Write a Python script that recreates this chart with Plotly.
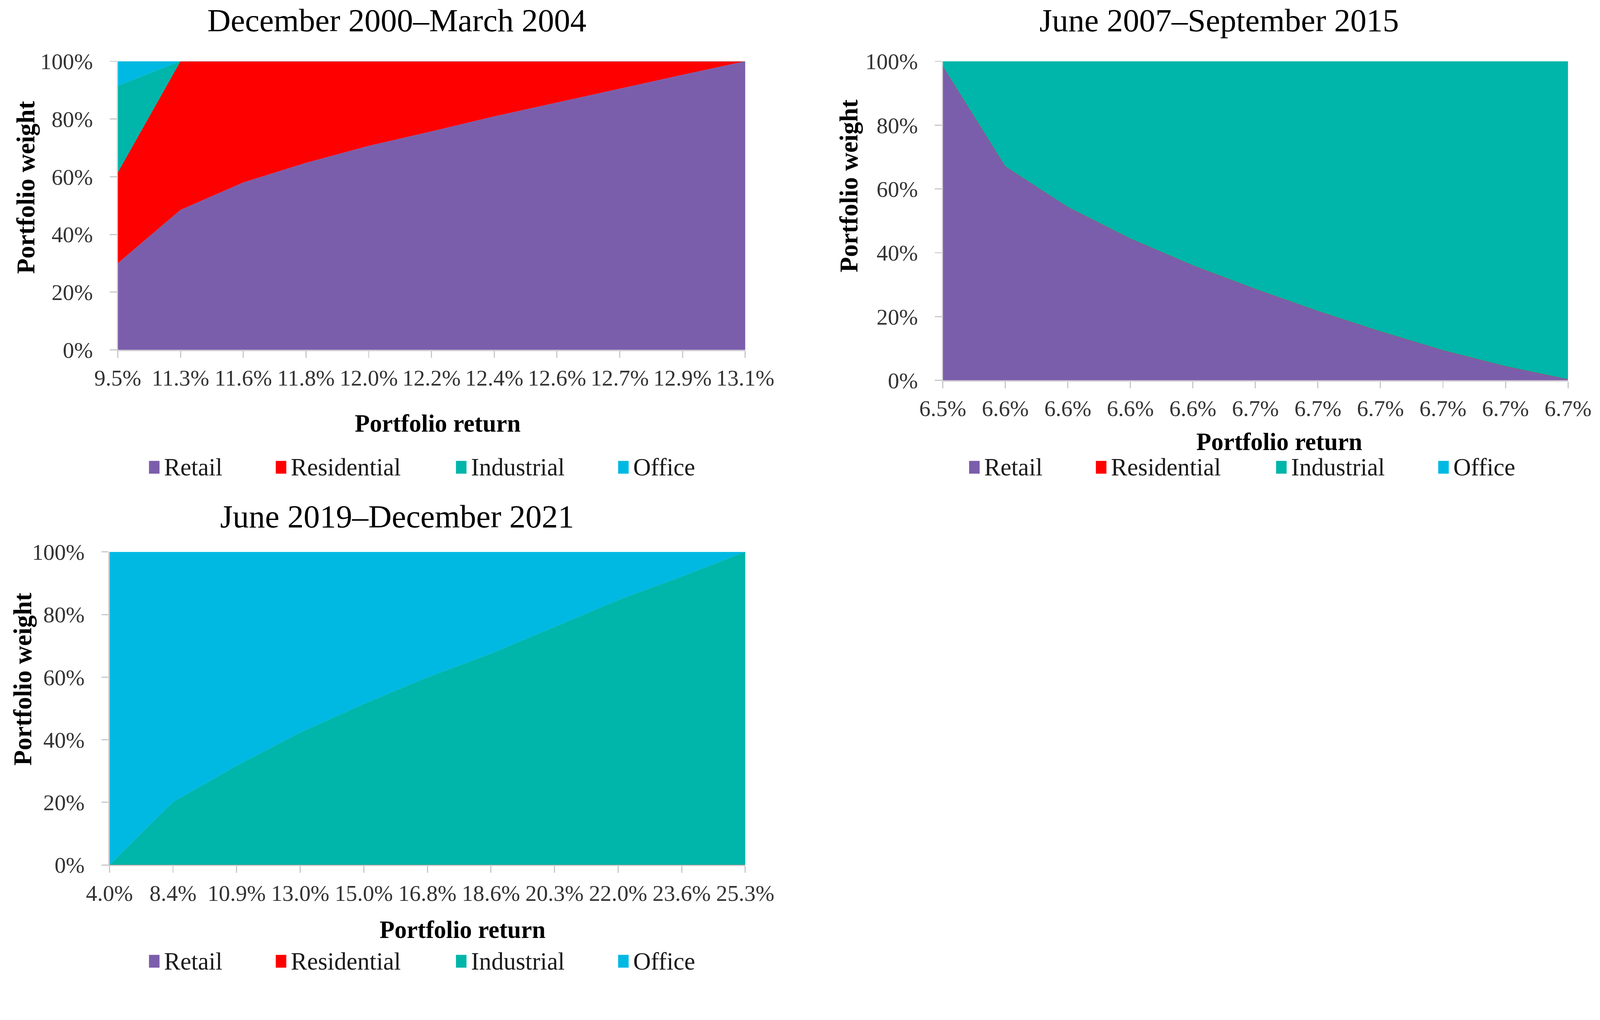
import plotly.graph_objects as go

W, H = 4253, 2611
FONT = "Liberation Serif"

SERIES = ["Retail", "Residential", "Industrial", "Office"]
COLORS = {"Retail": "#7B5EAB", "Residential": "#FF0000",
          "Industrial": "#00B5A9", "Office": "#00B9E3"}

# Panel 1: December 2000–March 2004
p1_title = "December 2000–March 2004"
p1_labels = ["9.5%", "11.3%", "11.6%", "11.8%", "12.0%", "12.2%",
             "12.4%", "12.6%", "12.7%", "12.9%", "13.1%"]
p1_retail = [0.300, 0.485, 0.580, 0.648, 0.707, 0.757, 0.809, 0.857, 0.905, 0.953, 1.000]
p1_residential = [0.314, 0.515, 0.420, 0.352, 0.293, 0.243, 0.191, 0.143, 0.095, 0.047, 0.000]
p1_industrial = [0.301, 0, 0, 0, 0, 0, 0, 0, 0, 0, 0]
p1_office = [0.085, 0, 0, 0, 0, 0, 0, 0, 0, 0, 0]

# Panel 2: June 2007–September 2015
p2_title = "June 2007–September 2015"
p2_labels = ["6.5%", "6.6%", "6.6%", "6.6%", "6.6%", "6.7%",
             "6.7%", "6.7%", "6.7%", "6.7%", "6.7%"]
p2_retail = [0.984, 0.670, 0.543, 0.444, 0.360, 0.286, 0.217, 0.153, 0.094, 0.044, 0.003]
p2_residential = [0, 0, 0, 0, 0, 0, 0, 0, 0, 0, 0]
p2_industrial = [0.016, 0.330, 0.457, 0.556, 0.640, 0.714, 0.783, 0.847, 0.906, 0.956, 0.997]
p2_office = [0, 0, 0, 0, 0, 0, 0, 0, 0, 0, 0]

# Panel 3: June 2019–December 2021
p3_title = "June 2019–December 2021"
p3_labels = ["4.0%", "8.4%", "10.9%", "13.0%", "15.0%", "16.8%",
             "18.6%", "20.3%", "22.0%", "23.6%", "25.3%"]
p3_retail = [0, 0, 0, 0, 0, 0, 0, 0, 0, 0, 0]
p3_residential = [0, 0, 0, 0, 0, 0, 0, 0, 0, 0, 0]
p3_industrial = [0.000, 0.201, 0.317, 0.423, 0.514, 0.599, 0.675, 0.760, 0.846, 0.921, 1.000]
p3_office = [1.000, 0.799, 0.683, 0.577, 0.486, 0.401, 0.325, 0.240, 0.154, 0.079, 0.000]

# layout (pixel positions of panel boxes, titles and legend rows)
panels = [
    dict(title=p1_title, labels=p1_labels,
         data={"Retail": p1_retail, "Residential": p1_residential,
               "Industrial": p1_industrial, "Office": p1_office},
         box=(313, 1981, 163, 930), title_pos=(1055, 54),
         xt_pos=(1163, 1125), yt_pos=(68, 498),
         leg_y=1242, leg_x=[410, 747, 1226, 1657]),
    dict(title=p2_title, labels=p2_labels,
         data={"Retail": p2_retail, "Residential": p2_residential,
               "Industrial": p2_industrial, "Office": p2_office},
         box=(2506, 4168, 163, 1011), title_pos=(3240, 54),
         xt_pos=(3400, 1174), yt_pos=(2256, 494),
         leg_y=1242, leg_x=[2590, 2927, 3406, 3837]),
    dict(title=p3_title, labels=p3_labels,
         data={"Retail": p3_retail, "Residential": p3_residential,
               "Industrial": p3_industrial, "Office": p3_office},
         box=(291, 1981, 1467, 2299), title_pos=(1055, 1373),
         xt_pos=(1229, 2471), yt_pos=(60, 1805),
         leg_y=2555, leg_x=[410, 747, 1226, 1657]),
]

def px(x):
    return x / W

def py(y):
    return 1 - y / H

fig = go.Figure()
annotations = []
shapes = []
layout = {}

for i, p in enumerate(panels, start=1):
    sfx = "" if i == 1 else str(i)
    xa, ya = "x" + sfx, "y" + sfx
    xs = list(range(len(p["labels"])))
    for s in SERIES:
        fig.add_trace(go.Scatter(
            x=xs, y=p["data"][s], name=s, stackgroup="g%d" % i,
            mode="lines", line=dict(width=0.5, color=COLORS[s]),
            fillcolor=COLORS[s], showlegend=False,
            xaxis=xa, yaxis=ya, hoverinfo="skip"))

    x0, x1, y0, y1 = p["box"]
    axis_common = dict(
        ticks="outside", ticklen=18, tickwidth=3, tickcolor="#C8C8C8",
        showline=True, linecolor="#D6D0D0", linewidth=3, showgrid=False,
        zeroline=False, automargin=False, fixedrange=True,
        tickfont=dict(family=FONT, size=60, color="#333333"))
    layout["xaxis" + sfx] = dict(
        domain=[px(x0), px(x1)], anchor=ya, range=[0, len(xs) - 1],
        tickvals=xs, ticktext=p["labels"], tickangle=0,
        ticklabelstandoff=2, **axis_common)
    layout["yaxis" + sfx] = dict(
        domain=[py(y1), py(y0)], anchor=xa, range=[0, 1],
        tickvals=[0, 0.2, 0.4, 0.6, 0.8, 1.0], tickformat=".0%",
        ticklabelstandoff=33, **axis_common)

    # legend row: colour swatch + label per series
    for s, cx in zip(SERIES, p["leg_x"]):
        shapes.append(dict(type="rect", xref="paper", yref="paper",
                           x0=px(cx - 14), x1=px(cx + 14),
                           y0=py(p["leg_y"] + 17), y1=py(p["leg_y"] - 17),
                           fillcolor=COLORS[s], line=dict(width=0)))
        annotations.append(dict(text=s, x=px(cx + 24), y=py(p["leg_y"]),
                                xref="paper", yref="paper", showarrow=False,
                                xanchor="left", yanchor="middle",
                                font=dict(family=FONT, size=65, color="#1a1a1a")))

    tx, ty = p["title_pos"]
    annotations.append(dict(text=p["title"], x=px(tx), y=py(ty), xref="paper",
                            yref="paper", showarrow=False, xanchor="center",
                            yanchor="middle",
                            font=dict(family=FONT, size=86, color="#000000")))
    ax, ay = p["xt_pos"]
    annotations.append(dict(text="<b>Portfolio return</b>", x=px(ax), y=py(ay),
                            xref="paper", yref="paper", showarrow=False,
                            xanchor="center", yanchor="middle",
                            font=dict(family=FONT, size=65, color="#000000")))
    bx, by = p["yt_pos"]
    annotations.append(dict(text="<b>Portfolio weight</b>", x=px(bx), y=py(by),
                            xref="paper", yref="paper", showarrow=False,
                            xanchor="center", yanchor="middle", textangle=-90,
                            font=dict(family=FONT, size=67, color="#000000")))

fig.update_layout(
    width=W, height=H,
    margin=dict(l=0, r=0, t=0, b=0, pad=0, autoexpand=False),
    paper_bgcolor="white", plot_bgcolor="white", showlegend=False,
    annotations=annotations, shapes=shapes, **layout)

# fit the fixed-size figure exactly into the browser viewport
fit_js = """
document.documentElement.style.margin = '0';
document.documentElement.style.overflow = 'hidden';
document.body.style.margin = '0';
document.body.style.overflow = 'hidden';
var gd = document.getElementById('{plot_id}');
var s = Math.min(window.innerWidth / %d, window.innerHeight / %d);
gd.style.transformOrigin = '0 0';
gd.style.transform = 'scale(' + s + ')';
""" % (W, H)

fig.write_html("out.html", post_script=fit_js,
               config={"displayModeBar": False})
